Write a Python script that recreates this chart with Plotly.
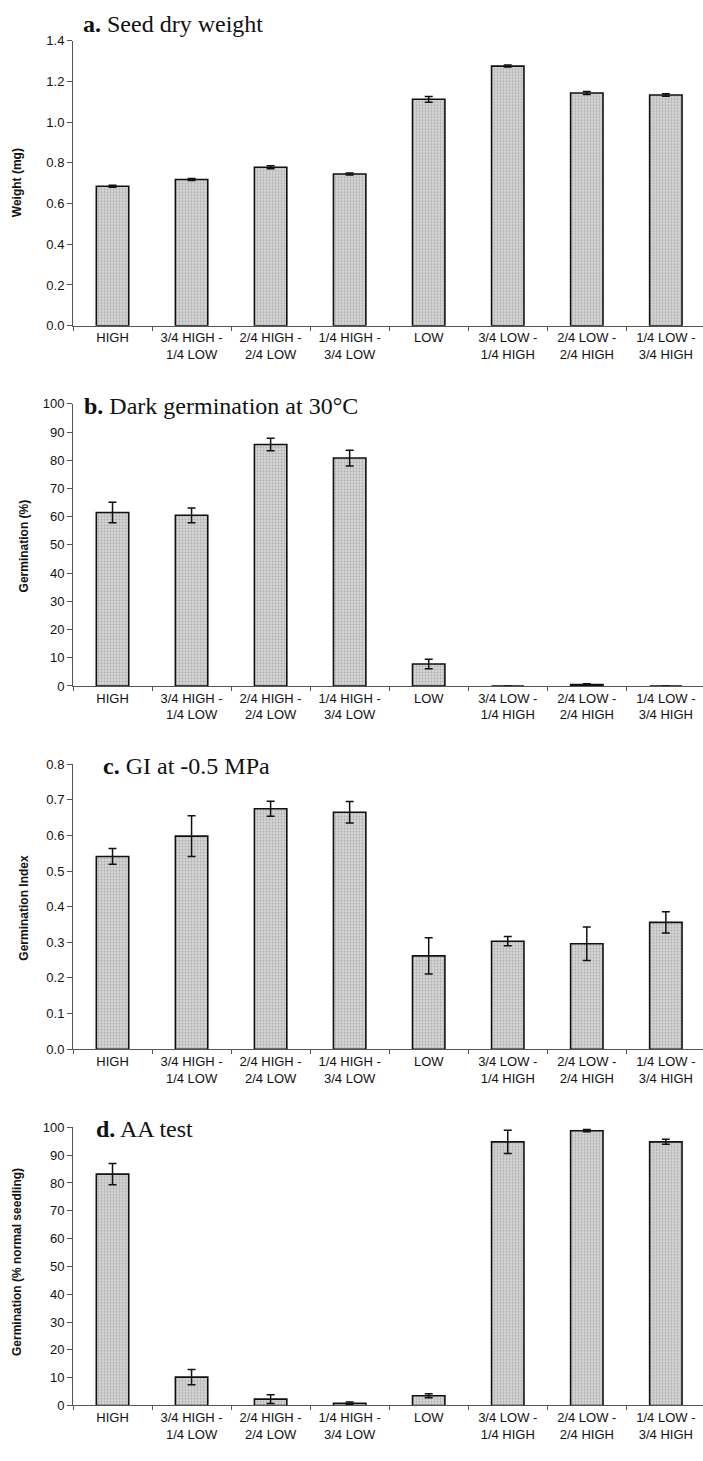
import plotly.graph_objects as go

W, H = 703, 1461

categories = [
    "HIGH",
    "3/4 HIGH -<br>1/4 LOW",
    "2/4 HIGH -<br>2/4 LOW",
    "1/4 HIGH -<br>3/4 LOW",
    "LOW",
    "3/4 LOW -<br>1/4 HIGH",
    "2/4 LOW -<br>2/4 HIGH",
    "1/4 LOW -<br>3/4 HIGH",
]

# a. Seed dry weight (mg)
seed_weight = [0.685, 0.718, 0.778, 0.745, 1.112, 1.275, 1.143, 1.133]
seed_weight_err = [0.005, 0.005, 0.007, 0.005, 0.014, 0.005, 0.007, 0.006]

# b. Dark germination at 30°C (%)
dark_germ = [61.5, 60.5, 85.6, 80.8, 7.8, 0.0, 0.5, 0.0]
dark_germ_err = [3.6, 2.6, 2.2, 2.8, 1.7, 0.0, 0.3, 0.0]

# c. Germination index at -0.5 MPa
gi = [0.541, 0.598, 0.675, 0.665, 0.262, 0.303, 0.296, 0.356]
gi_err = [0.022, 0.057, 0.021, 0.030, 0.051, 0.013, 0.047, 0.030]

# d. AA test (% normal seedling)
aa = [83.2, 10.2, 2.3, 0.8, 3.5, 94.8, 98.8, 94.8]
aa_err = [3.8, 2.7, 1.6, 0.5, 0.7, 4.2, 0.4, 0.9]

panels = [
    dict(vals=seed_weight, errs=seed_weight_err, title="<b>a.</b> Seed dry weight",
         ytitle="<b>Weight (mg)</b>", yrange=[0, 1.4], dtick=0.2, fmt=".1f",
         top=34, bottom=322, tx=81, ty=17, ytx=17, yty=178),
    dict(vals=dark_germ, errs=dark_germ_err, title="<b>b.</b> Dark germination at 30°C",
         ytitle="<b>Germination (%)</b>", yrange=[0, 100], dtick=10, fmt="d",
         top=401, bottom=686, tx=82, ty=403, ytx=24, yty=545),
    dict(vals=gi, errs=gi_err, title="<b>c.</b> GI at -0.5 MPa",
         ytitle="<b>Germination Index</b>", yrange=[0, 0.8], dtick=0.1, fmt=".1f",
         top=765, bottom=1053, tx=101, ty=767, ytx=24, yty=910),
    dict(vals=aa, errs=aa_err, title="<b>d.</b> AA test",
         ytitle="<b>Germination (% normal seedling)</b>", yrange=[0, 100], dtick=10, fmt="d",
         top=1132, bottom=1413, tx=94, ty=1134, ytx=17, yty=1268),
]

fig = go.Figure()
sans = "Liberation Sans, Arial, sans-serif"
serif = "Liberation Serif, Times New Roman, serif"
x_left = 73 / W

layout = dict(
    width=W, height=H, margin=dict(l=0, r=0, t=0, b=0),
    paper_bgcolor="white", plot_bgcolor="white", showlegend=False,
    annotations=[],
)

for i, p in enumerate(panels):
    n = "" if i == 0 else str(i + 1)
    fig.add_trace(go.Bar(
        x=categories, y=p["vals"], width=0.41,
        xaxis="x" + n, yaxis="y" + n,
        marker=dict(
            color="#d0d0d0",
            line=dict(color="#111111", width=1.6),
            pattern=dict(shape=".", fgcolor="#7f7f7f", bgcolor="#d6d6d6", size=3, solidity=0.3),
        ),
        error_y=dict(type="data", array=p["errs"], visible=True, color="#111111",
                     thickness=1.5, width=4),
    ))
    y0 = 1 - p["bottom"] / H
    y1 = 1 - p["top"] / H
    layout["xaxis" + n] = dict(
        domain=[x_left, 1], anchor="y" + n, type="category",
        range=[-0.5, 7.47], tickson="boundaries", ticks="outside", ticklen=4,
        tickcolor="#555", showline=True, linecolor="#555", linewidth=1,
        tickfont=dict(family=sans, size=13, color="#111"), showgrid=False,
        zeroline=False, fixedrange=True,
    )
    layout["yaxis" + n] = dict(
        domain=[y0, y1], anchor="x" + n, range=p["yrange"], dtick=p["dtick"],
        tick0=0, tickformat=p["fmt"], ticks="outside", ticklen=5, tickcolor="#555",
        showline=True, linecolor="#555", linewidth=1, showgrid=False, zeroline=False,
        tickfont=dict(family=sans, size=13, color="#111"),
    )
    layout["annotations"].append(dict(
        text=p["title"], xref="paper", yref="paper", x=p["tx"] / W, y=1 - p["ty"] / H,
        xanchor="left", yanchor="middle", showarrow=False,
        font=dict(family=serif, size=24, color="#111"),
    ))
    layout["annotations"].append(dict(
        text=p["ytitle"], xref="paper", yref="paper", x=p["ytx"] / W, y=1 - p["yty"] / H,
        xanchor="center", yanchor="middle", showarrow=False, textangle=-90,
        font=dict(family=sans, size=12, color="#111"),
    ))

fig.update_layout(**layout)
fig.write_html("out.html")
